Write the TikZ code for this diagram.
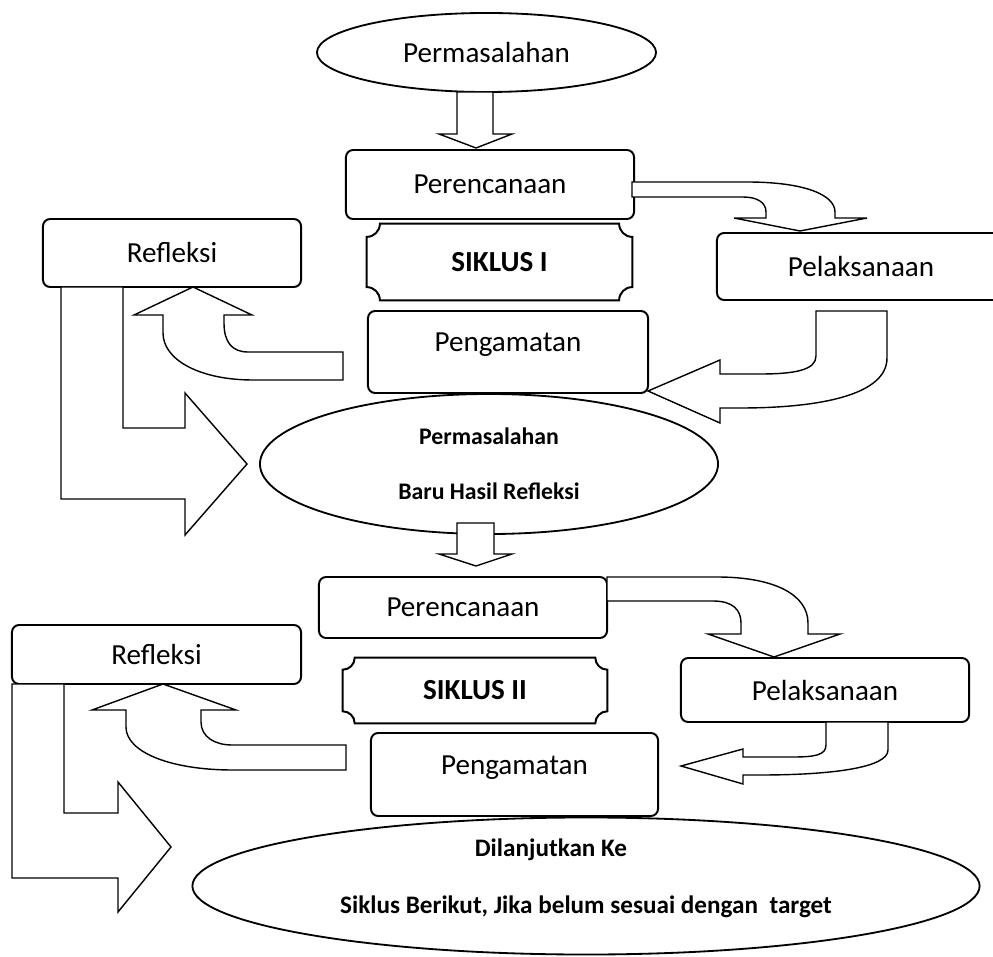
\documentclass[tikz,border=0pt]{standalone}
\usepackage{fontspec}
\setmainfont{Carlito}
\usetikzlibrary{shapes.geometric}

\tikzset{
  box/.style={draw, rounded corners=0.18cm, line width=1.4pt, inner sep=0pt, font=\fontsize{20.7}{25}\selectfont},
  oval/.style={draw, ellipse, line width=1.3pt, inner sep=0pt, align=center},
  plaquebox/.style={inner sep=0pt, font=\fontsize{20.7}{25}\selectfont\bfseries},
  blockarrow/.style={draw, fill=white, line width=1pt, line join=miter},
}
% frame with concave corners round a node
\newcommand{\plaqueframe}[2]{%
  \draw[line width=1.4pt] ([yshift=-#2]#1.north west) arc[start angle=-90, end angle=0, radius=#2]
    -- ([xshift=-#2]#1.north east) arc[start angle=180, end angle=270, radius=#2]
    -- ([yshift=#2]#1.south east) arc[start angle=90, end angle=180, radius=#2]
    -- ([xshift=#2]#1.south west) arc[start angle=0, end angle=90, radius=#2]
    -- cycle;}

\begin{document}
\begin{tikzpicture}[x=0.025cm, y=-0.025cm]
\useasboundingbox (0,0) rectangle (993,957);
\clip (0,0) rectangle (993,957);

% siklus I
\node[oval, minimum width=8.475cm, minimum height=1.975cm, font=\fontsize{20.7}{25}\selectfont] (perm1) at (486.5,52.5) {Permasalahan};
\node[box, minimum width=7.2cm, minimum height=1.725cm] (renc1) at (490,184.5) {Perencanaan};
\node[plaquebox, minimum width=6.625cm, minimum height=1.9cm] (siklus1) at (499.5,262) {SIKLUS I};
\node[box, minimum width=7.2cm, minimum height=1.675cm] (laks1) at (861,266.5) {Pelaksanaan};
\node[box, minimum width=7cm, minimum height=2.05cm, text height=0.5cm, text depth=0.5cm] (amat1) at (508,352) {Pengamatan};
\node[box, minimum width=6.45cm, minimum height=1.7cm] (refl1) at (172,253) {Refleksi};
\node[oval, minimum width=11.45cm, minimum height=3.5cm, font=\fontsize{16.9}{39}\selectfont\bfseries] (baru) at (489,464) {Permasalahan\\Baru Hasil Refleksi};

% siklus II
\node[box, minimum width=7.2cm, minimum height=1.525cm] (renc2) at (463,607.5) {Perencanaan};
\node[plaquebox, minimum width=6.6cm, minimum height=1.625cm] (siklus2) at (475,690.5) {SIKLUS II};
\node[box, minimum width=7.2cm, minimum height=1.6cm] (laks2) at (825,690) {Pelaksanaan};
\node[box, minimum width=7.175cm, minimum height=2.075cm, text height=0.5cm, text depth=0.5cm] (amat2) at (514.5,774.5) {Pengamatan};
\node[box, minimum width=7.225cm, minimum height=1.475cm] (refl2) at (156.5,654.5) {Refleksi};
\node[oval, minimum width=19.675cm, minimum height=3.425cm, font=\fontsize{17.9}{40.5}\selectfont\bfseries] (lanjut) at (586,886) {Dilanjutkan Ke\hspace*{1.75cm}\\Siklus Berikut, Jika belum sesuai dengan\ \ target\\[-26pt]\mbox{}};

\plaqueframe{siklus1}{0.33cm}
\plaqueframe{siklus2}{0.3cm}

% arrows siklus I
\draw[blockarrow] (457,92) -- (493,92) -- (493,134) -- (512,134) -- (476,148) -- (439,134) -- (457,134) -- cycle;
\draw[blockarrow] (632,182) -- (747,182) .. controls (805,182) and (835,195) .. (835,212) -- (835,218) -- (867,218) -- (800,231) -- (734,218) -- (766,218) -- (766,212) .. controls (766,203) and (758,197) .. (743,197) -- (632,197) -- cycle;
\draw[blockarrow] (816,311) -- (887,311) -- (887,358) .. controls (887,395) and (820,408) .. (740,408) -- (720,408) -- (720,423) -- (648,391) -- (720,360) -- (720,374) -- (760,374) .. controls (795,374) and (816,370) .. (816,356) -- cycle;
\draw[blockarrow] (343,352) -- (343,380) -- (253,380) .. controls (200,380) and (163,360) .. (163,333) -- (163,315) -- (134,315) -- (193,287) -- (252,315) -- (224,315) -- (224,323) .. controls (224,342) and (232,352) .. (248,352) -- cycle;
\draw[blockarrow] (61,287) -- (61,499) -- (185,499) -- (185,535) -- (247,464) -- (185,393) -- (185,428) -- (123,428) -- (123,287) -- cycle;

% arrows siklus II
\draw[blockarrow] (457,523) -- (494,523) -- (494,554) -- (512,554) -- (476,566) -- (439,554) -- (457,554) -- cycle;
\draw[blockarrow] (607,577) -- (717,577) .. controls (775,577) and (808,595) .. (808,623) -- (808,634) -- (840,634) -- (774,657) -- (708,634) -- (741,634) -- (741,623) .. controls (741,610) and (733,601) .. (713,601) -- (607,601) -- cycle;
\draw[blockarrow] (826,722) -- (888,722) -- (888,750) .. controls (888,768) and (830,775) .. (760,775) -- (743,775) -- (743,784) -- (681,766) -- (743,749) -- (743,757) -- (793,757) .. controls (815,757) and (826,755) .. (826,745) -- cycle;
\draw[blockarrow] (346,745) -- (346,770) -- (233,770) .. controls (170,770) and (126,752) .. (126,727) -- (126,710) -- (92,710) -- (163,684) -- (236,710) -- (201,710) -- (201,722) .. controls (201,737) and (215,745) .. (232,745) -- cycle;
\draw[blockarrow] (12,684) -- (12,878) -- (118,878) -- (118,912) -- (171,847) -- (118,782) -- (118,813) -- (64,813) -- (64,684) -- cycle;
\end{tikzpicture}
\end{document}
